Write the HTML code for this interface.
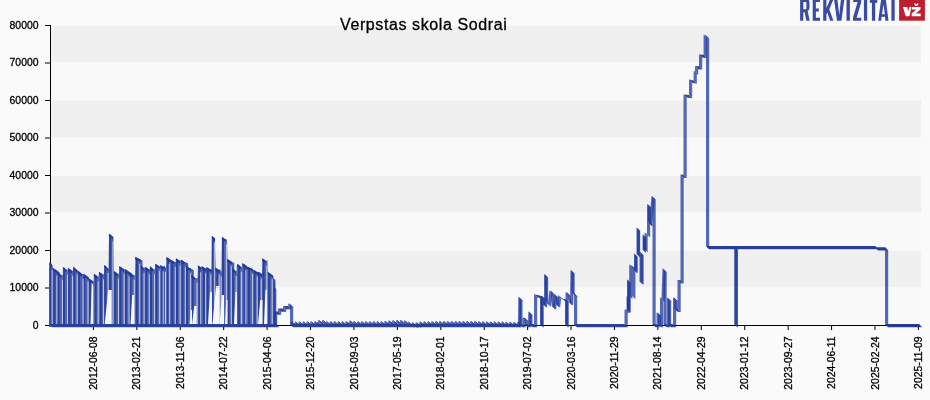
<!DOCTYPE html>
<html><head><meta charset="utf-8"><style>
html,body{margin:0;padding:0;background:#fafafa;}
body{width:930px;height:400px;overflow:hidden;position:relative;}
svg{position:absolute;left:0;top:0;will-change:transform;}
.yl{font-size:10.4px;fill:#000;stroke:#000;stroke-width:0.3px;font-family:"Liberation Sans",sans-serif;}
.title{font-size:16px;fill:#000;stroke:#000;stroke-width:0.3px;font-family:"Liberation Sans",sans-serif;letter-spacing:0.6px;}
</style></head><body>
<svg width="930" height="400" viewBox="0 0 930 400">
<defs><clipPath id="lowband"><rect x="0" y="287.2" width="930" height="40"/></clipPath><clipPath id="midband"><rect x="0" y="200" width="930" height="87.2"/></clipPath></defs>
<rect x="50" y="25" width="871" height="300" fill="#f9f9f9"/>
<rect x="51" y="25.8" width="870" height="36.400000000000006" fill="#f0f0f0"/>
<rect x="51" y="100.8" width="870" height="36.39999999999999" fill="#f0f0f0"/>
<rect x="51" y="175.8" width="870" height="36.39999999999998" fill="#f0f0f0"/>
<rect x="51" y="250.8" width="870" height="36.39999999999998" fill="#f0f0f0"/>
<rect x="45" y="325.0" width="5" height="1" fill="#000"/>
<text x="38.5" y="328.9" text-anchor="end" class="yl">0</text>
<rect x="45" y="287.5" width="5" height="1" fill="#000"/>
<text x="38.5" y="291.4" text-anchor="end" class="yl">10000</text>
<rect x="45" y="250.0" width="5" height="1" fill="#000"/>
<text x="38.5" y="253.9" text-anchor="end" class="yl">20000</text>
<rect x="45" y="212.5" width="5" height="1" fill="#000"/>
<text x="38.5" y="216.4" text-anchor="end" class="yl">30000</text>
<rect x="45" y="175.0" width="5" height="1" fill="#000"/>
<text x="38.5" y="178.9" text-anchor="end" class="yl">40000</text>
<rect x="45" y="137.5" width="5" height="1" fill="#000"/>
<text x="38.5" y="141.4" text-anchor="end" class="yl">50000</text>
<rect x="45" y="100.0" width="5" height="1" fill="#000"/>
<text x="38.5" y="103.9" text-anchor="end" class="yl">60000</text>
<rect x="45" y="62.5" width="5" height="1" fill="#000"/>
<text x="38.5" y="66.4" text-anchor="end" class="yl">70000</text>
<rect x="45" y="25.0" width="5" height="1" fill="#000"/>
<text x="38.5" y="28.9" text-anchor="end" class="yl">80000</text>
<rect x="92.9" y="325" width="1" height="5" fill="#000"/>
<text transform="translate(97.0,336.5) rotate(-90)" text-anchor="end" class="yl">2012-06-08</text>
<rect x="136.32105263157894" y="325" width="1" height="5" fill="#000"/>
<text transform="translate(140.42105263157893,336.5) rotate(-90)" text-anchor="end" class="yl">2013-02-21</text>
<rect x="179.7421052631579" y="325" width="1" height="5" fill="#000"/>
<text transform="translate(183.8421052631579,336.5) rotate(-90)" text-anchor="end" class="yl">2013-11-06</text>
<rect x="223.16315789473683" y="325" width="1" height="5" fill="#000"/>
<text transform="translate(227.26315789473682,336.5) rotate(-90)" text-anchor="end" class="yl">2014-07-22</text>
<rect x="266.5842105263158" y="325" width="1" height="5" fill="#000"/>
<text transform="translate(270.68421052631584,336.5) rotate(-90)" text-anchor="end" class="yl">2015-04-06</text>
<rect x="310.0052631578948" y="325" width="1" height="5" fill="#000"/>
<text transform="translate(314.1052631578948,336.5) rotate(-90)" text-anchor="end" class="yl">2015-12-20</text>
<rect x="353.4263157894736" y="325" width="1" height="5" fill="#000"/>
<text transform="translate(357.52631578947364,336.5) rotate(-90)" text-anchor="end" class="yl">2016-09-03</text>
<rect x="396.8473684210526" y="325" width="1" height="5" fill="#000"/>
<text transform="translate(400.9473684210526,336.5) rotate(-90)" text-anchor="end" class="yl">2017-05-19</text>
<rect x="440.26842105263154" y="325" width="1" height="5" fill="#000"/>
<text transform="translate(444.36842105263156,336.5) rotate(-90)" text-anchor="end" class="yl">2018-02-01</text>
<rect x="483.6894736842105" y="325" width="1" height="5" fill="#000"/>
<text transform="translate(487.7894736842105,336.5) rotate(-90)" text-anchor="end" class="yl">2018-10-17</text>
<rect x="527.1105263157895" y="325" width="1" height="5" fill="#000"/>
<text transform="translate(531.2105263157895,336.5) rotate(-90)" text-anchor="end" class="yl">2019-07-02</text>
<rect x="570.5315789473684" y="325" width="1" height="5" fill="#000"/>
<text transform="translate(574.6315789473684,336.5) rotate(-90)" text-anchor="end" class="yl">2020-03-16</text>
<rect x="613.9526315789473" y="325" width="1" height="5" fill="#000"/>
<text transform="translate(618.0526315789473,336.5) rotate(-90)" text-anchor="end" class="yl">2020-11-29</text>
<rect x="657.3736842105262" y="325" width="1" height="5" fill="#000"/>
<text transform="translate(661.4736842105262,336.5) rotate(-90)" text-anchor="end" class="yl">2021-08-14</text>
<rect x="700.7947368421052" y="325" width="1" height="5" fill="#000"/>
<text transform="translate(704.8947368421052,336.5) rotate(-90)" text-anchor="end" class="yl">2022-04-29</text>
<rect x="744.2157894736841" y="325" width="1" height="5" fill="#000"/>
<text transform="translate(748.3157894736842,336.5) rotate(-90)" text-anchor="end" class="yl">2023-01-12</text>
<rect x="787.6368421052631" y="325" width="1" height="5" fill="#000"/>
<text transform="translate(791.7368421052631,336.5) rotate(-90)" text-anchor="end" class="yl">2023-09-27</text>
<rect x="831.0578947368421" y="325" width="1" height="5" fill="#000"/>
<text transform="translate(835.1578947368421,336.5) rotate(-90)" text-anchor="end" class="yl">2024-06-11</text>
<rect x="874.478947368421" y="325" width="1" height="5" fill="#000"/>
<text transform="translate(878.578947368421,336.5) rotate(-90)" text-anchor="end" class="yl">2025-02-24</text>
<rect x="917.9" y="325" width="1" height="5" fill="#000"/>
<text transform="translate(922.0,336.5) rotate(-90)" text-anchor="end" class="yl">2025-11-09</text>
<rect x="50" y="25" width="1" height="300.5" fill="#000"/>
<rect x="45" y="325" width="875" height="1" fill="#000"/>
<g>
<path d="M49 327L49 270L49.5 262.5L50 263.1L50.5 263.7L51 264.2L51.5 264.8L52 265.4L52.5 265.4L53 268.2L53.5 268.5L54 268.8L54.5 269.1L55 269.4L55.5 269.7L56 270L56.5 270.4L57 270.7L57.5 271L58 272.4L58.5 272.8L59 273.2L59.5 273.6L60 274L60.5 274.4L61 274.8L61.5 275.2L62 275.2L62.5 275.2L63 275.2L63.5 267.1L64 267.6L64.5 268.1L65 268.6L65.5 269.1L66 269.6L66.5 269.6L67 269.6L67.5 269.6L68 269.6L68.5 268.2L69 268.6L69.5 269L70 269.3L70.5 269.7L71 270.1L71.5 270.4L72 270.8L72.5 270.8L73 270.8L73.5 267L74 267.4L74.5 267.8L75 268.2L75.5 268.7L76 269.1L76.5 269.5L77 269.9L77.5 270.3L78 271.1L78.5 271.5L79 271.8L79.5 272.2L80 272.6L80.5 272.9L81 273.3L81.5 273.7L82 274L82.5 274L83 274L83.5 274L84 274.1L84.5 274.4L85 274.8L85.5 275.1L86 275.5L86.5 275.8L87 276.2L87.5 276.5L88 276.9L88.5 277.2L89 278.7L89.5 279L90 279.3L90.5 279.7L91 280L91.5 280.3L92 280.6L92.5 281L93 281.3L93.5 281.3L94 273.9L94.5 274.3L95 274.6L95.5 275L96 275.3L96.5 275.7L97 276L97.5 276.4L98 276.4L98.5 276.4L99 271.9L99.5 272.2L100 272.6L100.5 272.9L101 273.3L101.5 273.6L102 274L102.5 274.3L103 274.3L103.5 274.3L104 274.3L104.5 265.2L105 265.6L105.5 266.1L106 266.6L106.5 267L107 267.5L107.5 268L108 268.4L108.5 268.9L109 233.8L109.5 234.2L110 234.6L110.5 234.9L111 235.3L111.5 235.7L112 236L112.5 236.4L113 236.8L113.5 236.8L114 271.3L114.5 271.6L115 272L115.5 272.4L116 272.7L116.5 273.1L117 273.4L117.5 273.8L118 273.8L118.5 273.8L119 273.8L119.5 266.3L120 266.6L120.5 267L121 267.3L121.5 267.6L122 268L122.5 268.3L123 268.6L123.5 269L124 269L124.5 269L125 269.2L125.5 269.6L126 269.9L126.5 270.2L127 270.5L127.5 270.8L128 271.1L128.5 271.4L129 271.7L129.5 272L130 272.7L130.5 273L131 273.4L131.5 273.7L132 274.1L132.5 274.5L133 274.8L133.5 275.2L134 275.2L134.5 275.2L135 275.2L135.5 257.1L136 257.3L136.5 257.5L137 257.8L137.5 258L138 258.2L138.5 258.5L139 258.7L139.5 258.9L140 259.2L140.5 259.4L141 265.7L141.5 266.1L142 266.6L142.5 267L143 267.5L143.5 267.9L144 267.9L144.5 267.9L145 267.1L145.5 267.3L146 267.6L146.5 267.9L147 268.2L147.5 268.4L148 268.7L148.5 269L149 269.2L149.5 269.2L150 269.2L150.5 266.6L151 267L151.5 267.5L152 267.9L152.5 268.4L153 268.8L153.5 269.2L154 269.2L154.5 269.2L155 269.2L155.5 264.1L156 264.3L156.5 264.6L157 264.9L157.5 265.2L158 265.4L158.5 265.7L159 266L159.5 266.2L160 266.2L160.5 265.3L161 265.6L161.5 265.9L162 266.2L162.5 266.5L163 266.8L163.5 267.1L164 265.4L164.5 266.2L165 267L165.5 267.8L166 267.8L166.5 257.2L167 257.5L167.5 257.8L168 258.1L168.5 258.4L169 258.7L169.5 259L170 259.3L170.5 259.6L171 259.9L171.5 260.2L172 260.5L172.5 260.8L173 261.1L173.5 261.4L174 261.7L174.5 261.9L175 261.9L175.5 261.9L176 261.9L176.5 258.5L177 258.9L177.5 259.2L178 259.6L178.5 259.9L179 260.3L179.5 260.6L180 260.6L180.5 260.6L181 259.8L181.5 260.1L182 260.4L182.5 260.7L183 261L183.5 261.4L184 261.7L184.5 262L185 262.3L185.5 262.3L186 262.3L186.5 266.2L187 266.5L187.5 266.8L188 267.1L188.5 267.4L189 267.7L189.5 268L190 268.2L190.5 268.5L191 268.8L191.5 269.1L192 275.2L192.5 275.6L193 276.1L193.5 276.5L194 277L194.5 277.4L195 277.9L195.5 277.9L196 277.9L196.5 277.9L197 277.9L197.5 277.9L198 265.5L198.5 265.8L199 266.2L199.5 266.6L200 266.9L200.5 267.3L201 267.3L201.5 267.3L202 266.4L202.5 266.7L203 267L203.5 267.3L204 267.6L204.5 268L205 268.3L205.5 268.6L206 268.6L206.5 267.2L207 267.5L207.5 267.8L208 268L208.5 268.3L209 268.5L209.5 268.8L210 269L210.5 269.3L211 269.5L211.5 269.8L212 236.2L212.5 236.6L213 236.9L213.5 237.3L214 237.7L214.5 238.1L215 238.4L215.5 267.8L216 268.2L216.5 268.5L217 268.8L217.5 269.1L218 269.4L218.5 269.7L219 270L219.5 270.3L220 268.4L220.5 271.4L221 271.4L221.5 271.4L222 237L222.5 237.3L223 237.7L223.5 238L224 238.3L224.5 238.7L225 239L225.5 239.3L226 239.3L226.5 239.3L227 239.3L227.5 259.2L228 259.5L228.5 259.8L229 260.1L229.5 260.4L230 260.7L230.5 261L231 261.3L231.5 261.6L232 261.9L232.5 268L233 268.5L233.5 269L234 269.5L234.5 270L235 270.5L235.5 271L236 271L236.5 271L237 263.9L237.5 264.3L238 264.6L238.5 265L239 265.4L239.5 265.7L240 266.1L240.5 266.5L241 266.8L241.5 266.8L242 266.8L242.5 263.3L243 263.6L243.5 263.9L244 264.3L244.5 264.6L245 264.9L245.5 265.3L246 265.6L246.5 265.9L247 266.6L247.5 266.8L248 267L248.5 267.3L249 267.5L249.5 267.7L250 267.9L250.5 268.1L251 268.3L251.5 268.6L252 268.8L252.5 269L253 269L253.5 269.9L254 270.2L254.5 270.5L255 270.8L255.5 271.1L256 271.3L256.5 271.6L257 271.9L257.5 272.2L258 271.8L258.5 272L259 272.3L259.5 272.6L260 272.9L260.5 273.2L261 273.5L261.5 273.8L262 274.1L262.5 258.5L263 258.9L263.5 259.2L264 259.6L264.5 259.9L265 260.3L265.5 260.6L266 260.6L266.5 260.6L267 260.6L267.5 260.6L268 272.3L268.5 272.6L269 272.9L269.5 273.2L270 273.6L270.5 273.9L271 274.2L271.5 274.5L272 274.9L272.5 275.2L273 275.5L273.5 278.6L274 281.8L274.5 284.9L275 288L275.5 288L276 288L276 327Z" fill="#6070b6"/>
<path d="M49.5 326L49.5 262.5L51.7 263.7L51.7 326Z" fill="rgba(30,55,150,0.8)"/>
<path d="M52.3 326L52.3 266.4L53.3 269.5L53.3 326Z" fill="rgba(30,55,150,0.3)"/>
<path d="M53.4 326L53.4 268.5L55.6 269.7L55.6 326Z" fill="rgba(30,55,150,0.8)"/>
<path d="M56.2 326L56.2 271L57.2 271.7L57.2 326Z" fill="rgba(30,55,150,0.3)"/>
<path d="M57.4 326L57.4 271L59.6 272.2L59.6 326Z" fill="rgba(30,55,150,0.8)"/>
<path d="M60.2 326L60.2 275L61.2 275.8L61.2 326Z" fill="rgba(30,55,150,0.3)"/>
<path d="M62.9 326L62.9 267.1L65.1 268.3L65.1 326Z" fill="rgba(30,55,150,0.8)"/>
<path d="M65.7 326L65.7 270.1L66.7 270.6L66.7 326Z" fill="rgba(30,55,150,0.3)"/>
<path d="M68.2 326L68.2 268.2L70.4 269.4L70.4 326Z" fill="rgba(30,55,150,0.8)"/>
<path d="M71 326L71 271.1L72 271.8L72 326Z" fill="rgba(30,55,150,0.3)"/>
<path d="M73.2 326L73.2 267L75.4 268.2L75.4 326Z" fill="rgba(30,55,150,0.8)"/>
<path d="M76 326L76 270.1L77 270.9L77 326Z" fill="rgba(30,55,150,0.3)"/>
<path d="M78.1 326L78.1 271.1L80.3 272.3L80.3 326Z" fill="rgba(30,55,150,0.8)"/>
<path d="M80.9 326L80.9 274.3L81.9 275L81.9 326Z" fill="rgba(30,55,150,0.3)"/>
<path d="M83.3 326L83.3 274L85.5 275.2L85.5 326Z" fill="rgba(30,55,150,0.8)"/>
<path d="M86.1 326L86.1 276.5L87.1 277.2L87.1 326Z" fill="rgba(30,55,150,0.3)"/>
<path d="M88.9 326L88.9 278.7L91.1 279.9L91.1 326Z" fill="rgba(30,55,150,0.8)"/>
<path d="M91.7 326L91.7 281.3L92.7 282L92.7 326Z" fill="rgba(30,55,150,0.3)"/>
<path d="M94.6 326L94.6 274.3L96.8 275.5L96.8 326Z" fill="rgba(30,55,150,0.8)"/>
<path d="M97.4 326L97.4 277.4L98.4 277.4L98.4 326Z" fill="rgba(30,55,150,0.3)"/>
<path d="M99.8 326L99.8 272.6L102 273.8L102 326Z" fill="rgba(30,55,150,0.8)"/>
<path d="M102.6 326L102.6 275.3L103.6 275.3L103.6 326Z" fill="rgba(30,55,150,0.3)"/>
<path d="M104.3 326L104.3 265.2L106.5 266.4L106.5 326Z" fill="rgba(30,55,150,0.8)"/>
<path d="M107.1 326L107.1 268.5L108.1 269.4L108.1 326Z" fill="rgba(30,55,150,0.3)"/>
<path d="M109.2 326L109.2 233.8L111.4 235L111.4 326Z" fill="rgba(30,55,150,0.8)"/>
<path d="M112 326L112 237L113 237.8L113 326Z" fill="rgba(30,55,150,0.3)"/>
<path d="M114.2 326L114.2 271.3L116.4 272.5L116.4 326Z" fill="rgba(30,55,150,0.8)"/>
<path d="M117 326L117 274.4L118 274.8L118 326Z" fill="rgba(30,55,150,0.3)"/>
<path d="M119.4 326L119.4 266.3L121.6 267.5L121.6 326Z" fill="rgba(30,55,150,0.8)"/>
<path d="M122.2 326L122.2 269L123.2 269.6L123.2 326Z" fill="rgba(30,55,150,0.3)"/>
<path d="M124.9 326L124.9 269.2L127.1 270.4L127.1 326Z" fill="rgba(30,55,150,0.8)"/>
<path d="M127.7 326L127.7 271.8L128.7 272.4L128.7 326Z" fill="rgba(30,55,150,0.3)"/>
<path d="M129.5 326L129.5 272L131.7 273.2L131.7 326Z" fill="rgba(30,55,150,0.8)"/>
<path d="M132.3 326L132.3 275.5L133.3 276.2L133.3 326Z" fill="rgba(30,55,150,0.3)"/>
<path d="M135.8 326L135.8 257.3L138 258.5L138 326Z" fill="rgba(30,55,150,0.8)"/>
<path d="M138.6 326L138.6 259.5L139.6 259.9L139.6 326Z" fill="rgba(30,55,150,0.3)"/>
<path d="M140.3 326L140.3 259.4L142.5 260.6L142.5 326Z" fill="rgba(30,55,150,0.8)"/>
<path d="M143.1 326L143.1 268.5L144.1 268.9L144.1 326Z" fill="rgba(30,55,150,0.3)"/>
<path d="M145.2 326L145.2 267.1L147.4 268.3L147.4 326Z" fill="rgba(30,55,150,0.8)"/>
<path d="M148 326L148 269.7L149 270.2L149 326Z" fill="rgba(30,55,150,0.3)"/>
<path d="M149.8 326L149.8 266.6L152 267.8L152 326Z" fill="rgba(30,55,150,0.8)"/>
<path d="M152.6 326L152.6 269.4L153.6 270.2L153.6 326Z" fill="rgba(30,55,150,0.3)"/>
<path d="M155.4 326L155.4 264.1L157.6 265.3L157.6 326Z" fill="rgba(30,55,150,0.8)"/>
<path d="M158.2 326L158.2 266.4L159.2 267L159.2 326Z" fill="rgba(30,55,150,0.3)"/>
<path d="M161.2 326L161.2 265.6L163.4 266.8L163.4 326Z" fill="rgba(30,55,150,0.8)"/>
<path d="M164 326L164 266.4L165 268L165 326Z" fill="rgba(30,55,150,0.3)"/>
<path d="M166.8 326L166.8 257.5L169 258.7L169 326Z" fill="rgba(30,55,150,0.8)"/>
<path d="M169.6 326L169.6 260L170.6 260.6L170.6 326Z" fill="rgba(30,55,150,0.3)"/>
<path d="M171.3 326L171.3 260.2L173.5 261.4L173.5 326Z" fill="rgba(30,55,150,0.8)"/>
<path d="M174.1 326L174.1 262.7L175.1 262.9L175.1 326Z" fill="rgba(30,55,150,0.3)"/>
<path d="M175.8 326L175.8 258.5L178 259.7L178 326Z" fill="rgba(30,55,150,0.8)"/>
<path d="M178.6 326L178.6 260.9L179.6 261.6L179.6 326Z" fill="rgba(30,55,150,0.3)"/>
<path d="M181.4 326L181.4 260.1L183.6 261.3L183.6 326Z" fill="rgba(30,55,150,0.8)"/>
<path d="M184.2 326L184.2 262.7L185.2 263.3L185.2 326Z" fill="rgba(30,55,150,0.3)"/>
<path d="M185.9 326L185.9 262.3L188.1 263.5L188.1 326Z" fill="rgba(30,55,150,0.8)"/>
<path d="M188.7 326L188.7 268.4L189.7 269L189.7 326Z" fill="rgba(30,55,150,0.3)"/>
<path d="M191.6 326L191.6 269.1L193.8 270.3L193.8 326Z" fill="rgba(30,55,150,0.8)"/>
<path d="M194.4 326L194.4 278.4L195.4 278.9L195.4 326Z" fill="rgba(30,55,150,0.3)"/>
<path d="M198.3 326L198.3 265.8L200.5 267L200.5 326Z" fill="rgba(30,55,150,0.8)"/>
<path d="M201.1 326L201.1 268.3L202.1 267.4L202.1 326Z" fill="rgba(30,55,150,0.3)"/>
<path d="M202.8 326L202.8 267L205 268.2L205 326Z" fill="rgba(30,55,150,0.8)"/>
<path d="M205.6 326L205.6 269.6L206.6 268.2L206.6 326Z" fill="rgba(30,55,150,0.3)"/>
<path d="M206.6 326L206.6 267.2L208.8 268.4L208.8 326Z" fill="rgba(30,55,150,0.8)"/>
<path d="M209.4 326L209.4 269.8L210.4 270.3L210.4 326Z" fill="rgba(30,55,150,0.3)"/>
<path d="M211.8 326L211.8 236.2L214 237.4L214 326Z" fill="rgba(30,55,150,0.8)"/>
<path d="M214.6 326L214.6 239.1L215.6 268.8L215.6 326Z" fill="rgba(30,55,150,0.3)"/>
<path d="M216.3 326L216.3 268.5L218.5 269.7L218.5 326Z" fill="rgba(30,55,150,0.8)"/>
<path d="M219.1 326L219.1 271L220.1 269.4L220.1 326Z" fill="rgba(30,55,150,0.3)"/>
<path d="M221.9 326L221.9 237L224.1 238.2L224.1 326Z" fill="rgba(30,55,150,0.8)"/>
<path d="M224.7 326L224.7 239.7L225.7 240.3L225.7 326Z" fill="rgba(30,55,150,0.3)"/>
<path d="M227.6 326L227.6 259.2L229.8 260.4L229.8 326Z" fill="rgba(30,55,150,0.8)"/>
<path d="M230.4 326L230.4 262L231.4 262.6L231.4 326Z" fill="rgba(30,55,150,0.3)"/>
<path d="M232.1 326L232.1 261.9L234.3 263.1L234.3 326Z" fill="rgba(30,55,150,0.8)"/>
<path d="M234.9 326L234.9 271.5L235.9 272L235.9 326Z" fill="rgba(30,55,150,0.3)"/>
<path d="M237.7 326L237.7 264.3L239.9 265.5L239.9 326Z" fill="rgba(30,55,150,0.8)"/>
<path d="M240.5 326L240.5 267.5L241.5 267.8L241.5 326Z" fill="rgba(30,55,150,0.3)"/>
<path d="M243.4 326L243.4 263.9L245.6 265.1L245.6 326Z" fill="rgba(30,55,150,0.8)"/>
<path d="M246.2 326L246.2 266.6L247.2 267.6L247.2 326Z" fill="rgba(30,55,150,0.3)"/>
<path d="M247.9 326L247.9 267L250.1 268.2L250.1 326Z" fill="rgba(30,55,150,0.8)"/>
<path d="M250.7 326L250.7 269.1L251.7 269.6L251.7 326Z" fill="rgba(30,55,150,0.3)"/>
<path d="M253.5 326L253.5 269.9L255.7 271.1L255.7 326Z" fill="rgba(30,55,150,0.8)"/>
<path d="M256.3 326L256.3 272.6L257.3 273.2L257.3 326Z" fill="rgba(30,55,150,0.3)"/>
<path d="M258 326L258 271.8L260.2 272.9L260.2 326Z" fill="rgba(30,55,150,0.8)"/>
<path d="M260.8 326L260.8 274.5L261.8 275.1L261.8 326Z" fill="rgba(30,55,150,0.3)"/>
<path d="M262.5 326L262.5 258.5L264.7 259.7L264.7 326Z" fill="rgba(30,55,150,0.8)"/>
<path d="M265.3 326L265.3 261.6L266.3 261.6L266.3 326Z" fill="rgba(30,55,150,0.3)"/>
<path d="M268.1 326L268.1 272.3L270.3 273.5L270.3 326Z" fill="rgba(30,55,150,0.8)"/>
<path d="M270.9 326L270.9 275.2L271.9 275.9L271.9 326Z" fill="rgba(30,55,150,0.3)"/>
<path d="M273.3 326L273.3 278.6L275.5 279.8L275.5 326Z" fill="rgba(30,55,150,0.8)"/>
<path d="M276.1 326L276.1 289L277.1 289L277.1 326Z" fill="rgba(30,55,150,0.3)"/>
<path d="M90.5 324.5L93 324.5L93 282L91.8 282Z" fill="#f9f9f9" clip-path="url(#lowband)"/>
<path d="M90.5 324.5L93 324.5L93 282L91.8 282Z" fill="#f0f0f0" clip-path="url(#midband)"/>
<path d="M104.7 324.5L111.7 324.5L111.7 290L108.2 290Z" fill="#f9f9f9" clip-path="url(#lowband)"/>
<path d="M104.7 324.5L111.7 324.5L111.7 290L108.2 290Z" fill="#f0f0f0" clip-path="url(#midband)"/>
<path d="M130.5 324.5L134 324.5L134 295L132.2 295Z" fill="#f9f9f9" clip-path="url(#lowband)"/>
<path d="M130.5 324.5L134 324.5L134 295L132.2 295Z" fill="#f0f0f0" clip-path="url(#midband)"/>
<path d="M189.5 324.5L192 324.5L192 310L190.8 310Z" fill="#f9f9f9" clip-path="url(#lowband)"/>
<path d="M189.5 324.5L192 324.5L192 310L190.8 310Z" fill="#f0f0f0" clip-path="url(#midband)"/>
<path d="M192 324.5L196.6 324.5L196.6 306L194.3 306Z" fill="#f9f9f9" clip-path="url(#lowband)"/>
<path d="M192 324.5L196.6 324.5L196.6 306L194.3 306Z" fill="#f0f0f0" clip-path="url(#midband)"/>
<path d="M208 324.5L212 324.5L212 292L210 292Z" fill="#f9f9f9" clip-path="url(#lowband)"/>
<path d="M208 324.5L212 324.5L212 292L210 292Z" fill="#f0f0f0" clip-path="url(#midband)"/>
<path d="M212.4 324.5L219.6 324.5L219.6 286L216 286Z" fill="#f9f9f9" clip-path="url(#lowband)"/>
<path d="M212.4 324.5L219.6 324.5L219.6 286L216 286Z" fill="#f0f0f0" clip-path="url(#midband)"/>
<path d="M219.6 324.5L224 324.5L224 295L221.8 295Z" fill="#f9f9f9" clip-path="url(#lowband)"/>
<path d="M219.6 324.5L224 324.5L224 295L221.8 295Z" fill="#f0f0f0" clip-path="url(#midband)"/>
<path d="M225 324.5L227.5 324.5L227.5 300L226.2 300Z" fill="#f9f9f9" clip-path="url(#lowband)"/>
<path d="M225 324.5L227.5 324.5L227.5 300L226.2 300Z" fill="#f0f0f0" clip-path="url(#midband)"/>
<path d="M234 324.5L237 324.5L237 292L235.5 292Z" fill="#f9f9f9" clip-path="url(#lowband)"/>
<path d="M234 324.5L237 324.5L237 292L235.5 292Z" fill="#f0f0f0" clip-path="url(#midband)"/>
<path d="M258 324.5L262.5 324.5L262.5 300L260.2 300Z" fill="#f9f9f9" clip-path="url(#lowband)"/>
<path d="M258 324.5L262.5 324.5L262.5 300L260.2 300Z" fill="#f0f0f0" clip-path="url(#midband)"/>
<path d="M264 324.5L267 324.5L267 290L265.5 290Z" fill="#f9f9f9" clip-path="url(#lowband)"/>
<path d="M264 324.5L267 324.5L267 290L265.5 290Z" fill="#f0f0f0" clip-path="url(#midband)"/>
<rect x="51.6" y="269.8" width="0.9" height="54.2" fill="rgba(235,239,250,0.8)"/>
<rect x="56.4" y="275.4" width="0.9" height="48.6" fill="rgba(235,239,250,0.8)"/>
<rect x="62.1" y="280.2" width="0.9" height="43.8" fill="rgba(235,239,250,0.8)"/>
<rect x="67" y="274.6" width="0.9" height="49.4" fill="rgba(235,239,250,0.8)"/>
<rect x="72.2" y="275.8" width="0.9" height="48.2" fill="rgba(235,239,250,0.8)"/>
<rect x="76.7" y="274.5" width="0.9" height="49.5" fill="rgba(235,239,250,0.8)"/>
<rect x="82.7" y="279" width="0.9" height="45" fill="rgba(235,239,250,0.8)"/>
<rect x="87.6" y="281.5" width="0.9" height="42.5" fill="rgba(235,239,250,0.8)"/>
<rect x="92.5" y="286" width="0.9" height="38" fill="rgba(235,239,250,0.8)"/>
<rect x="97.7" y="281.4" width="0.9" height="42.6" fill="rgba(235,239,250,0.8)"/>
<rect x="103" y="279.3" width="0.9" height="44.7" fill="rgba(235,239,250,0.8)"/>
<rect x="107.6" y="273" width="0.9" height="51" fill="rgba(235,239,250,0.8)"/>
<rect x="112.5" y="241.4" width="0.9" height="82.6" fill="rgba(235,239,250,0.8)"/>
<rect x="118.1" y="278.8" width="0.9" height="45.2" fill="rgba(235,239,250,0.8)"/>
<rect x="123.7" y="274" width="0.9" height="50" fill="rgba(235,239,250,0.8)"/>
<rect x="128.6" y="276.4" width="0.9" height="47.6" fill="rgba(235,239,250,0.8)"/>
<rect x="133.8" y="280.2" width="0.9" height="43.8" fill="rgba(235,239,250,0.8)"/>
<rect x="139.4" y="263.9" width="0.9" height="60.1" fill="rgba(235,239,250,0.8)"/>
<rect x="143.6" y="272.9" width="0.9" height="51.1" fill="rgba(235,239,250,0.8)"/>
<rect x="148.8" y="274.2" width="0.9" height="49.8" fill="rgba(235,239,250,0.8)"/>
<rect x="154.1" y="274.2" width="0.9" height="49.8" fill="rgba(235,239,250,0.8)"/>
<rect x="158.9" y="271" width="0.9" height="53" fill="rgba(235,239,250,0.8)"/>
<rect x="162.7" y="271.5" width="0.9" height="52.5" fill="rgba(235,239,250,0.8)"/>
<rect x="165.1" y="272" width="0.9" height="52" fill="rgba(235,239,250,0.8)"/>
<rect x="168.8" y="263.7" width="0.9" height="60.3" fill="rgba(235,239,250,0.8)"/>
<rect x="174.8" y="266.9" width="0.9" height="57.1" fill="rgba(235,239,250,0.8)"/>
<rect x="179.7" y="265.6" width="0.9" height="58.4" fill="rgba(235,239,250,0.8)"/>
<rect x="184.9" y="267.3" width="0.9" height="56.7" fill="rgba(235,239,250,0.8)"/>
<rect x="190.2" y="273.2" width="0.9" height="50.8" fill="rgba(235,239,250,0.8)"/>
<rect x="196.6" y="282.9" width="0.9" height="41.1" fill="rgba(235,239,250,0.8)"/>
<rect x="200.3" y="272.3" width="0.9" height="51.7" fill="rgba(235,239,250,0.8)"/>
<rect x="205.2" y="273.3" width="0.9" height="50.7" fill="rgba(235,239,250,0.8)"/>
<rect x="210.4" y="274.3" width="0.9" height="49.7" fill="rgba(235,239,250,0.8)"/>
<rect x="213.8" y="242.7" width="0.9" height="81.3" fill="rgba(235,239,250,0.8)"/>
<rect x="218.7" y="274.7" width="0.9" height="49.3" fill="rgba(235,239,250,0.8)"/>
<rect x="220.7" y="276.4" width="0.9" height="47.6" fill="rgba(235,239,250,0.8)"/>
<rect x="225.9" y="244.3" width="0.9" height="79.7" fill="rgba(235,239,250,0.8)"/>
<rect x="230.8" y="266.3" width="0.9" height="57.7" fill="rgba(235,239,250,0.8)"/>
<rect x="235.7" y="276" width="0.9" height="48" fill="rgba(235,239,250,0.8)"/>
<rect x="240.9" y="271.8" width="0.9" height="52.2" fill="rgba(235,239,250,0.8)"/>
<rect x="245.4" y="270.3" width="0.9" height="53.7" fill="rgba(235,239,250,0.8)"/>
<rect x="252.2" y="273.8" width="0.9" height="50.2" fill="rgba(235,239,250,0.8)"/>
<rect x="256.7" y="276.6" width="0.9" height="47.4" fill="rgba(235,239,250,0.8)"/>
<rect x="260.8" y="278.5" width="0.9" height="45.5" fill="rgba(235,239,250,0.8)"/>
<rect x="266.4" y="265.6" width="0.9" height="58.4" fill="rgba(235,239,250,0.8)"/>
<rect x="271.7" y="279.5" width="0.9" height="44.5" fill="rgba(235,239,250,0.8)"/>
<path d="M49.5 262.5L52.1 265.5L52.1 268.1L49.5 265.1Z" fill="rgba(30,55,150,0.92)"/>
<path d="M52.9 268.1L57.7 271.1L57.7 273.7L52.9 270.7Z" fill="rgba(30,55,150,0.92)"/>
<path d="M57.7 272.2L61.5 275.2L61.5 277.8L57.7 274.8Z" fill="rgba(30,55,150,0.92)"/>
<path d="M63.4 267L66.4 270L66.4 272.6L63.4 269.6Z" fill="rgba(30,55,150,0.92)"/>
<path d="M68.3 268.1L72.4 271.1L72.4 273.7L68.3 270.7Z" fill="rgba(30,55,150,0.92)"/>
<path d="M73.5 267L77.6 270.4L77.6 273L73.5 269.6Z" fill="rgba(30,55,150,0.92)"/>
<path d="M78 271.1L82.1 274.1L82.1 276.7L78 273.7Z" fill="rgba(30,55,150,0.92)"/>
<path d="M84 274.1L88.9 277.5L88.9 280.1L84 276.7Z" fill="rgba(30,55,150,0.92)"/>
<path d="M88.9 278.6L93 281.3L93 283.9L88.9 281.2Z" fill="rgba(30,55,150,0.92)"/>
<path d="M93.8 273.8L97.5 276.4L97.5 279L93.8 276.4Z" fill="rgba(30,55,150,0.92)"/>
<path d="M99 271.9L102.8 274.5L102.8 277.1L99 274.5Z" fill="rgba(30,55,150,0.92)"/>
<path d="M104.3 265L108.5 268.9L108.5 271.5L104.3 267.6Z" fill="rgba(30,55,150,0.92)"/>
<path d="M108.9 233.8L113 236.8L113 239.3L108.9 236.3Z" fill="rgba(30,55,150,0.92)"/>
<path d="M113.8 271.1L117.9 274.1L117.9 276.7L113.8 273.7Z" fill="rgba(30,55,150,0.92)"/>
<path d="M119.4 266.2L123.9 269.2L123.9 271.9L119.4 268.9Z" fill="rgba(30,55,150,0.92)"/>
<path d="M125 269.2L129.9 272.2L129.9 274.9L125 271.9Z" fill="rgba(30,55,150,0.92)"/>
<path d="M129.9 272.6L133.6 275.2L133.6 277.9L129.9 275.2Z" fill="rgba(30,55,150,0.92)"/>
<path d="M135.1 256.9L140.8 259.5L140.8 262.1L135.1 259.5Z" fill="rgba(30,55,150,0.92)"/>
<path d="M140.8 265.5L143.8 268.1L143.8 270.7L140.8 268.1Z" fill="rgba(30,55,150,0.92)"/>
<path d="M144.9 267L149 269.2L149 271.9L144.9 269.6Z" fill="rgba(30,55,150,0.92)"/>
<path d="M150.1 266.2L153.5 269.2L153.5 271.9L150.1 268.9Z" fill="rgba(30,55,150,0.92)"/>
<path d="M155.4 264L159.5 266.2L159.5 268.9L155.4 266.6Z" fill="rgba(30,55,150,0.92)"/>
<path d="M160.2 265.1L164 267.4L164 270L160.2 267.7Z" fill="rgba(30,55,150,0.92)"/>
<path d="M164 265.4L165.6 268L165.6 270.6L164 268Z" fill="rgba(30,55,150,0.92)"/>
<path d="M166.4 257.1L170.1 259.4L170.1 262L166.4 259.7Z" fill="rgba(30,55,150,0.92)"/>
<path d="M170.1 259.4L174.6 262L174.6 264.6L170.1 262Z" fill="rgba(30,55,150,0.92)"/>
<path d="M176.1 258.2L179.9 260.9L179.9 263.5L176.1 260.9Z" fill="rgba(30,55,150,0.92)"/>
<path d="M181 259.8L185.1 262.4L185.1 265L181 262.4Z" fill="rgba(30,55,150,0.92)"/>
<path d="M186.2 266.1L191.5 269.1L191.5 271.7L186.2 268.7Z" fill="rgba(30,55,150,0.92)"/>
<path d="M191.5 274.8L195.2 278.1L195.2 280.7L191.5 277.4Z" fill="rgba(30,55,150,0.92)"/>
<path d="M197.9 265.4L200.9 267.6L200.9 270.2L197.9 268Z" fill="rgba(30,55,150,0.92)"/>
<path d="M201.6 266.1L205.8 268.8L205.8 271.4L201.6 268.7Z" fill="rgba(30,55,150,0.92)"/>
<path d="M206.5 267.2L211.8 269.9L211.8 272.5L206.5 269.9Z" fill="rgba(30,55,150,0.92)"/>
<path d="M211.8 236L215.1 238.5L215.1 241.1L211.8 238.6Z" fill="rgba(30,55,150,0.92)"/>
<path d="M215.1 267.6L220 270.6L220 273.2L215.1 270.2Z" fill="rgba(30,55,150,0.92)"/>
<path d="M220 268.4L220.5 271.4L220.5 274L220 271Z" fill="rgba(30,55,150,0.92)"/>
<path d="M222 237L225.8 239.5L225.8 242.1L222 239.6Z" fill="rgba(30,55,150,0.92)"/>
<path d="M227.2 259L232.1 262L232.1 264.6L227.2 261.6Z" fill="rgba(30,55,150,0.92)"/>
<path d="M232.1 267.6L235.9 271.4L235.9 274L232.1 270.2Z" fill="rgba(30,55,150,0.92)"/>
<path d="M237 263.9L241.1 266.9L241.1 269.5L237 266.5Z" fill="rgba(30,55,150,0.92)"/>
<path d="M242.2 263.1L246.8 266.1L246.8 268.7L242.2 265.7Z" fill="rgba(30,55,150,0.92)"/>
<path d="M246.8 266.5L252.8 269.1L252.8 271.7L246.8 269.1Z" fill="rgba(30,55,150,0.92)"/>
<path d="M253.5 269.9L258 272.5L258 275.1L253.5 272.5Z" fill="rgba(30,55,150,0.92)"/>
<path d="M258 271.8L262.5 274.4L262.5 277L258 274.4Z" fill="rgba(30,55,150,0.92)"/>
<path d="M262.1 258.2L265.9 260.9L265.9 263.5L262.1 260.9Z" fill="rgba(30,55,150,0.92)"/>
<path d="M267.8 272.1L273 275.5L273 278.1L267.8 274.7Z" fill="rgba(30,55,150,0.92)"/>
<path d="M273 275.5L275 288L275 290.6L273 278.1Z" fill="rgba(30,55,150,0.92)"/>
<path d="M49 324L276 324L279.2 327.2L52.2 327.2Z" fill="rgba(40,64,152,0.96)"/>
<path d="M274 324L274 311.5L277.2 314.7L277.2 327.2Z" fill="rgba(30,55,155,0.75)"/>
<path d="M278 311.5L278 308.5L281.2 311.7L281.2 314.7Z" fill="rgba(30,55,155,0.75)"/>
<path d="M283 308.5L283 306L286.2 309.2L286.2 311.7Z" fill="rgba(30,55,155,0.75)"/>
<path d="M288 306L288.5 303.5L291.7 306.7L291.2 309.2Z" fill="rgba(30,55,155,0.75)"/>
<path d="M290 304L290 324L293.2 327.2L293.2 307.2Z" fill="rgba(30,55,155,0.75)"/>
<path d="M274 311.5L278 311.5L281.2 314.7L277.2 314.7ZM278 308.5L283 308.5L286.2 311.7L281.2 311.7ZM283 306L288 306L291.2 309.2L286.2 309.2ZM288.5 303.5L290 304L293.2 307.2L291.7 306.7Z" fill="rgba(40,64,152,0.96)"/>
<path d="M290.5 323.5L291.1 321.5L294.3 324.7L293.7 326.7Z" fill="rgba(30,55,155,0.75)"/>
<path d="M291.9 321.5L292.7 323.5L295.9 326.7L295.1 324.7Z" fill="rgba(30,55,155,0.75)"/>
<path d="M294.4 323.5L295 321.5L298.2 324.7L297.6 326.7Z" fill="rgba(30,55,155,0.75)"/>
<path d="M295.8 321.5L296.6 323.5L299.8 326.7L299 324.7Z" fill="rgba(30,55,155,0.75)"/>
<path d="M298.3 323.4L298.9 321.4L302.1 324.6L301.5 326.6Z" fill="rgba(30,55,155,0.75)"/>
<path d="M299.7 321.4L300.5 323.4L303.7 326.6L302.9 324.6Z" fill="rgba(30,55,155,0.75)"/>
<path d="M302.2 323.4L302.8 321.4L306 324.6L305.4 326.6Z" fill="rgba(30,55,155,0.75)"/>
<path d="M303.6 321.4L304.4 323.4L307.6 326.6L306.8 324.6Z" fill="rgba(30,55,155,0.75)"/>
<path d="M306.1 323.4L306.7 321.4L309.9 324.6L309.3 326.6Z" fill="rgba(30,55,155,0.75)"/>
<path d="M307.5 321.4L308.3 323.4L311.5 326.6L310.7 324.6Z" fill="rgba(30,55,155,0.75)"/>
<path d="M310 323.3L310.6 321.3L313.8 324.5L313.2 326.5Z" fill="rgba(30,55,155,0.75)"/>
<path d="M311.4 321.3L312.2 323.3L315.4 326.5L314.6 324.5Z" fill="rgba(30,55,155,0.75)"/>
<path d="M313.9 323.3L314.5 321.3L317.7 324.5L317.1 326.5Z" fill="rgba(30,55,155,0.75)"/>
<path d="M315.3 321.3L316.1 323.3L319.3 326.5L318.5 324.5Z" fill="rgba(30,55,155,0.75)"/>
<path d="M317.8 322.1L318.4 320.1L321.6 323.3L321 325.3Z" fill="rgba(30,55,155,0.75)"/>
<path d="M319.2 320.1L320 322.1L323.2 325.3L322.4 323.3Z" fill="rgba(30,55,155,0.75)"/>
<path d="M321.7 322L322.3 320L325.5 323.2L324.9 325.2Z" fill="rgba(30,55,155,0.75)"/>
<path d="M323.1 320L323.9 322L327.1 325.2L326.3 323.2Z" fill="rgba(30,55,155,0.75)"/>
<path d="M325.6 323.2L326.2 321.2L329.4 324.4L328.8 326.4Z" fill="rgba(30,55,155,0.75)"/>
<path d="M327 321.2L327.8 323.2L331 326.4L330.2 324.4Z" fill="rgba(30,55,155,0.75)"/>
<path d="M329.5 323.2L330.1 321.2L333.3 324.4L332.7 326.4Z" fill="rgba(30,55,155,0.75)"/>
<path d="M330.9 321.2L331.7 323.2L334.9 326.4L334.1 324.4Z" fill="rgba(30,55,155,0.75)"/>
<path d="M333.4 323.2L334 321.2L337.2 324.4L336.6 326.4Z" fill="rgba(30,55,155,0.75)"/>
<path d="M334.8 321.2L335.6 323.2L338.8 326.4L338 324.4Z" fill="rgba(30,55,155,0.75)"/>
<path d="M337.3 323.2L337.9 321.2L341.1 324.4L340.5 326.4Z" fill="rgba(30,55,155,0.75)"/>
<path d="M338.7 321.2L339.5 323.2L342.7 326.4L341.9 324.4Z" fill="rgba(30,55,155,0.75)"/>
<path d="M341.2 323.2L341.8 321.2L345 324.4L344.4 326.4Z" fill="rgba(30,55,155,0.75)"/>
<path d="M342.6 321.2L343.4 323.2L346.6 326.4L345.8 324.4Z" fill="rgba(30,55,155,0.75)"/>
<path d="M345.1 323.2L345.7 321.2L348.9 324.4L348.3 326.4Z" fill="rgba(30,55,155,0.75)"/>
<path d="M346.5 321.2L347.3 323.2L350.5 326.4L349.7 324.4Z" fill="rgba(30,55,155,0.75)"/>
<path d="M349 322.6L349.6 320.6L352.8 323.8L352.2 325.8Z" fill="rgba(30,55,155,0.75)"/>
<path d="M350.4 320.6L351.2 322.6L354.4 325.8L353.6 323.8Z" fill="rgba(30,55,155,0.75)"/>
<path d="M352.9 323.1L353.5 321.1L356.7 324.3L356.1 326.3Z" fill="rgba(30,55,155,0.75)"/>
<path d="M354.3 321.1L355.1 323.1L358.3 326.3L357.5 324.3Z" fill="rgba(30,55,155,0.75)"/>
<path d="M356.8 323.3L357.4 321.3L360.6 324.5L360 326.5Z" fill="rgba(30,55,155,0.75)"/>
<path d="M358.2 321.3L359 323.3L362.2 326.5L361.4 324.5Z" fill="rgba(30,55,155,0.75)"/>
<path d="M360.7 323.3L361.3 321.3L364.5 324.5L363.9 326.5Z" fill="rgba(30,55,155,0.75)"/>
<path d="M362.1 321.3L362.9 323.3L366.1 326.5L365.3 324.5Z" fill="rgba(30,55,155,0.75)"/>
<path d="M364.6 323.3L365.2 321.3L368.4 324.5L367.8 326.5Z" fill="rgba(30,55,155,0.75)"/>
<path d="M366 321.3L366.8 323.3L370 326.5L369.2 324.5Z" fill="rgba(30,55,155,0.75)"/>
<path d="M368.5 323.3L369.1 321.3L372.3 324.5L371.7 326.5Z" fill="rgba(30,55,155,0.75)"/>
<path d="M369.9 321.3L370.7 323.3L373.9 326.5L373.1 324.5Z" fill="rgba(30,55,155,0.75)"/>
<path d="M372.4 323.3L373 321.3L376.2 324.5L375.6 326.5Z" fill="rgba(30,55,155,0.75)"/>
<path d="M373.8 321.3L374.6 323.3L377.8 326.5L377 324.5Z" fill="rgba(30,55,155,0.75)"/>
<path d="M376.3 323.3L376.9 321.3L380.1 324.5L379.5 326.5Z" fill="rgba(30,55,155,0.75)"/>
<path d="M377.7 321.3L378.5 323.3L381.7 326.5L380.9 324.5Z" fill="rgba(30,55,155,0.75)"/>
<path d="M380.2 323.3L380.8 321.3L384 324.5L383.4 326.5Z" fill="rgba(30,55,155,0.75)"/>
<path d="M381.6 321.3L382.4 323.3L385.6 326.5L384.8 324.5Z" fill="rgba(30,55,155,0.75)"/>
<path d="M384.1 322.9L384.7 320.9L387.9 324.1L387.3 326.1Z" fill="rgba(30,55,155,0.75)"/>
<path d="M385.5 320.9L386.3 322.9L389.5 326.1L388.7 324.1Z" fill="rgba(30,55,155,0.75)"/>
<path d="M388 322.5L388.6 320.5L391.8 323.7L391.2 325.7Z" fill="rgba(30,55,155,0.75)"/>
<path d="M389.4 320.5L390.2 322.5L393.4 325.7L392.6 323.7Z" fill="rgba(30,55,155,0.75)"/>
<path d="M391.9 322.2L392.5 320.2L395.7 323.4L395.1 325.4Z" fill="rgba(30,55,155,0.75)"/>
<path d="M393.3 320.2L394.1 322.2L397.3 325.4L396.5 323.4Z" fill="rgba(30,55,155,0.75)"/>
<path d="M395.8 322.1L396.4 320.1L399.6 323.3L399 325.3Z" fill="rgba(30,55,155,0.75)"/>
<path d="M397.2 320.1L398 322.1L401.2 325.3L400.4 323.3Z" fill="rgba(30,55,155,0.75)"/>
<path d="M399.7 322L400.3 320L403.5 323.2L402.9 325.2Z" fill="rgba(30,55,155,0.75)"/>
<path d="M401.1 320L401.9 322L405.1 325.2L404.3 323.2Z" fill="rgba(30,55,155,0.75)"/>
<path d="M403.6 322.4L404.2 320.4L407.4 323.6L406.8 325.6Z" fill="rgba(30,55,155,0.75)"/>
<path d="M405 320.4L405.8 322.4L409 325.6L408.2 323.6Z" fill="rgba(30,55,155,0.75)"/>
<path d="M407.5 323.7L408.1 321.7L411.3 324.9L410.7 326.9Z" fill="rgba(30,55,155,0.75)"/>
<path d="M408.9 321.7L409.7 323.7L412.9 326.9L412.1 324.9Z" fill="rgba(30,55,155,0.75)"/>
<path d="M411.4 324.3L412 322.3L415.2 325.5L414.6 327.5Z" fill="rgba(30,55,155,0.75)"/>
<path d="M412.8 322.3L413.6 324.3L416.8 327.5L416 325.5Z" fill="rgba(30,55,155,0.75)"/>
<path d="M415.3 324.3L415.9 322.3L419.1 325.5L418.5 327.5Z" fill="rgba(30,55,155,0.75)"/>
<path d="M416.7 322.3L417.5 324.3L420.7 327.5L419.9 325.5Z" fill="rgba(30,55,155,0.75)"/>
<path d="M419.2 323.5L419.8 321.5L423 324.7L422.4 326.7Z" fill="rgba(30,55,155,0.75)"/>
<path d="M420.6 321.5L421.4 323.5L424.6 326.7L423.8 324.7Z" fill="rgba(30,55,155,0.75)"/>
<path d="M423.1 323.2L423.7 321.2L426.9 324.4L426.3 326.4Z" fill="rgba(30,55,155,0.75)"/>
<path d="M424.5 321.2L425.3 323.2L428.5 326.4L427.7 324.4Z" fill="rgba(30,55,155,0.75)"/>
<path d="M427 323.2L427.6 321.2L430.8 324.4L430.2 326.4Z" fill="rgba(30,55,155,0.75)"/>
<path d="M428.4 321.2L429.2 323.2L432.4 326.4L431.6 324.4Z" fill="rgba(30,55,155,0.75)"/>
<path d="M430.9 323.2L431.5 321.2L434.7 324.4L434.1 326.4Z" fill="rgba(30,55,155,0.75)"/>
<path d="M432.3 321.2L433.1 323.2L436.3 326.4L435.5 324.4Z" fill="rgba(30,55,155,0.75)"/>
<path d="M434.8 323.1L435.4 321.1L438.6 324.3L438 326.3Z" fill="rgba(30,55,155,0.75)"/>
<path d="M436.2 321.1L437 323.1L440.2 326.3L439.4 324.3Z" fill="rgba(30,55,155,0.75)"/>
<path d="M438.7 323.1L439.3 321.1L442.5 324.3L441.9 326.3Z" fill="rgba(30,55,155,0.75)"/>
<path d="M440.1 321.1L440.9 323.1L444.1 326.3L443.3 324.3Z" fill="rgba(30,55,155,0.75)"/>
<path d="M442.6 323.1L443.2 321.1L446.4 324.3L445.8 326.3Z" fill="rgba(30,55,155,0.75)"/>
<path d="M444 321.1L444.8 323.1L448 326.3L447.2 324.3Z" fill="rgba(30,55,155,0.75)"/>
<path d="M446.5 323.1L447.1 321.1L450.3 324.3L449.7 326.3Z" fill="rgba(30,55,155,0.75)"/>
<path d="M447.9 321.1L448.7 323.1L451.9 326.3L451.1 324.3Z" fill="rgba(30,55,155,0.75)"/>
<path d="M450.4 323.1L451 321.1L454.2 324.3L453.6 326.3Z" fill="rgba(30,55,155,0.75)"/>
<path d="M451.8 321.1L452.6 323.1L455.8 326.3L455 324.3Z" fill="rgba(30,55,155,0.75)"/>
<path d="M454.3 323.1L454.9 321.1L458.1 324.3L457.5 326.3Z" fill="rgba(30,55,155,0.75)"/>
<path d="M455.7 321.1L456.5 323.1L459.7 326.3L458.9 324.3Z" fill="rgba(30,55,155,0.75)"/>
<path d="M458.2 323L458.8 321L462 324.2L461.4 326.2Z" fill="rgba(30,55,155,0.75)"/>
<path d="M459.6 321L460.4 323L463.6 326.2L462.8 324.2Z" fill="rgba(30,55,155,0.75)"/>
<path d="M462.1 323L462.7 321L465.9 324.2L465.3 326.2Z" fill="rgba(30,55,155,0.75)"/>
<path d="M463.5 321L464.3 323L467.5 326.2L466.7 324.2Z" fill="rgba(30,55,155,0.75)"/>
<path d="M466 323L466.6 321L469.8 324.2L469.2 326.2Z" fill="rgba(30,55,155,0.75)"/>
<path d="M467.4 321L468.2 323L471.4 326.2L470.6 324.2Z" fill="rgba(30,55,155,0.75)"/>
<path d="M469.9 323L470.5 321L473.7 324.2L473.1 326.2Z" fill="rgba(30,55,155,0.75)"/>
<path d="M471.3 321L472.1 323L475.3 326.2L474.5 324.2Z" fill="rgba(30,55,155,0.75)"/>
<path d="M473.8 323.1L474.4 321.1L477.6 324.3L477 326.3Z" fill="rgba(30,55,155,0.75)"/>
<path d="M475.2 321.1L476 323.1L479.2 326.3L478.4 324.3Z" fill="rgba(30,55,155,0.75)"/>
<path d="M477.7 323.2L478.3 321.2L481.5 324.4L480.9 326.4Z" fill="rgba(30,55,155,0.75)"/>
<path d="M479.1 321.2L479.9 323.2L483.1 326.4L482.3 324.4Z" fill="rgba(30,55,155,0.75)"/>
<path d="M481.6 323.3L482.2 321.3L485.4 324.5L484.8 326.5Z" fill="rgba(30,55,155,0.75)"/>
<path d="M483 321.3L483.8 323.3L487 326.5L486.2 324.5Z" fill="rgba(30,55,155,0.75)"/>
<path d="M485.5 323.4L486.1 321.4L489.3 324.6L488.7 326.6Z" fill="rgba(30,55,155,0.75)"/>
<path d="M486.9 321.4L487.7 323.4L490.9 326.6L490.1 324.6Z" fill="rgba(30,55,155,0.75)"/>
<path d="M489.4 323.4L490 321.4L493.2 324.6L492.6 326.6Z" fill="rgba(30,55,155,0.75)"/>
<path d="M490.8 321.4L491.6 323.4L494.8 326.6L494 324.6Z" fill="rgba(30,55,155,0.75)"/>
<path d="M493.3 323.5L493.9 321.5L497.1 324.7L496.5 326.7Z" fill="rgba(30,55,155,0.75)"/>
<path d="M494.7 321.5L495.5 323.5L498.7 326.7L497.9 324.7Z" fill="rgba(30,55,155,0.75)"/>
<path d="M497.2 323.6L497.8 321.6L501 324.8L500.4 326.8Z" fill="rgba(30,55,155,0.75)"/>
<path d="M498.6 321.6L499.4 323.6L502.6 326.8L501.8 324.8Z" fill="rgba(30,55,155,0.75)"/>
<path d="M501.1 323.6L501.7 321.6L504.9 324.8L504.3 326.8Z" fill="rgba(30,55,155,0.75)"/>
<path d="M502.5 321.6L503.3 323.6L506.5 326.8L505.7 324.8Z" fill="rgba(30,55,155,0.75)"/>
<path d="M505 323.7L505.6 321.7L508.8 324.9L508.2 326.9Z" fill="rgba(30,55,155,0.75)"/>
<path d="M506.4 321.7L507.2 323.7L510.4 326.9L509.6 324.9Z" fill="rgba(30,55,155,0.75)"/>
<path d="M508.9 323.8L509.5 321.8L512.7 325L512.1 327Z" fill="rgba(30,55,155,0.75)"/>
<path d="M510.3 321.8L511.1 323.8L514.3 327L513.5 325Z" fill="rgba(30,55,155,0.75)"/>
<path d="M512.8 323.9L513.4 321.9L516.6 325.1L516 327.1Z" fill="rgba(30,55,155,0.75)"/>
<path d="M514.2 321.9L515 323.9L518.2 327.1L517.4 325.1Z" fill="rgba(30,55,155,0.75)"/>
<path d="M516.7 324L517.3 322L520.5 325.2L519.9 327.2Z" fill="rgba(30,55,155,0.75)"/>
<path d="M518.1 322L518.9 324L522.1 327.2L521.3 325.2Z" fill="rgba(30,55,155,0.75)"/>
<path d="M291.1 321.5L291.9 321.5L295.1 324.7L294.3 324.7ZM292.7 323.5L294.4 323.5L297.6 326.7L295.9 326.7ZM295 321.5L295.8 321.5L299 324.7L298.2 324.7ZM296.6 323.5L298.3 323.4L301.5 326.6L299.8 326.7ZM298.9 321.4L299.7 321.4L302.9 324.6L302.1 324.6ZM300.5 323.4L302.2 323.4L305.4 326.6L303.7 326.6ZM302.8 321.4L303.6 321.4L306.8 324.6L306 324.6ZM304.4 323.4L306.1 323.4L309.3 326.6L307.6 326.6ZM306.7 321.4L307.5 321.4L310.7 324.6L309.9 324.6ZM308.3 323.4L310 323.3L313.2 326.5L311.5 326.6ZM310.6 321.3L311.4 321.3L314.6 324.5L313.8 324.5ZM312.2 323.3L313.9 323.3L317.1 326.5L315.4 326.5ZM314.5 321.3L315.3 321.3L318.5 324.5L317.7 324.5ZM316.1 323.3L317.8 322.1L321 325.3L319.3 326.5ZM318.4 320.1L319.2 320.1L322.4 323.3L321.6 323.3ZM320 322.1L321.7 322L324.9 325.2L323.2 325.3ZM322.3 320L323.1 320L326.3 323.2L325.5 323.2ZM323.9 322L325.6 323.2L328.8 326.4L327.1 325.2ZM326.2 321.2L327 321.2L330.2 324.4L329.4 324.4ZM327.8 323.2L329.5 323.2L332.7 326.4L331 326.4ZM330.1 321.2L330.9 321.2L334.1 324.4L333.3 324.4ZM331.7 323.2L333.4 323.2L336.6 326.4L334.9 326.4ZM334 321.2L334.8 321.2L338 324.4L337.2 324.4ZM335.6 323.2L337.3 323.2L340.5 326.4L338.8 326.4ZM337.9 321.2L338.7 321.2L341.9 324.4L341.1 324.4ZM339.5 323.2L341.2 323.2L344.4 326.4L342.7 326.4ZM341.8 321.2L342.6 321.2L345.8 324.4L345 324.4ZM343.4 323.2L345.1 323.2L348.3 326.4L346.6 326.4ZM345.7 321.2L346.5 321.2L349.7 324.4L348.9 324.4ZM347.3 323.2L349 322.6L352.2 325.8L350.5 326.4ZM349.6 320.6L350.4 320.6L353.6 323.8L352.8 323.8ZM351.2 322.6L352.9 323.1L356.1 326.3L354.4 325.8ZM353.5 321.1L354.3 321.1L357.5 324.3L356.7 324.3ZM355.1 323.1L356.8 323.3L360 326.5L358.3 326.3ZM357.4 321.3L358.2 321.3L361.4 324.5L360.6 324.5ZM359 323.3L360.7 323.3L363.9 326.5L362.2 326.5ZM361.3 321.3L362.1 321.3L365.3 324.5L364.5 324.5ZM362.9 323.3L364.6 323.3L367.8 326.5L366.1 326.5ZM365.2 321.3L366 321.3L369.2 324.5L368.4 324.5ZM366.8 323.3L368.5 323.3L371.7 326.5L370 326.5ZM369.1 321.3L369.9 321.3L373.1 324.5L372.3 324.5ZM370.7 323.3L372.4 323.3L375.6 326.5L373.9 326.5ZM373 321.3L373.8 321.3L377 324.5L376.2 324.5ZM374.6 323.3L376.3 323.3L379.5 326.5L377.8 326.5ZM376.9 321.3L377.7 321.3L380.9 324.5L380.1 324.5ZM378.5 323.3L380.2 323.3L383.4 326.5L381.7 326.5ZM380.8 321.3L381.6 321.3L384.8 324.5L384 324.5ZM382.4 323.3L384.1 322.9L387.3 326.1L385.6 326.5ZM384.7 320.9L385.5 320.9L388.7 324.1L387.9 324.1ZM386.3 322.9L388 322.5L391.2 325.7L389.5 326.1ZM388.6 320.5L389.4 320.5L392.6 323.7L391.8 323.7ZM390.2 322.5L391.9 322.2L395.1 325.4L393.4 325.7ZM392.5 320.2L393.3 320.2L396.5 323.4L395.7 323.4ZM394.1 322.2L395.8 322.1L399 325.3L397.3 325.4ZM396.4 320.1L397.2 320.1L400.4 323.3L399.6 323.3ZM398 322.1L399.7 322L402.9 325.2L401.2 325.3ZM400.3 320L401.1 320L404.3 323.2L403.5 323.2ZM401.9 322L403.6 322.4L406.8 325.6L405.1 325.2ZM404.2 320.4L405 320.4L408.2 323.6L407.4 323.6ZM405.8 322.4L407.5 323.7L410.7 326.9L409 325.6ZM408.1 321.7L408.9 321.7L412.1 324.9L411.3 324.9ZM409.7 323.7L411.4 324.3L414.6 327.5L412.9 326.9ZM412 322.3L412.8 322.3L416 325.5L415.2 325.5ZM413.6 324.3L415.3 324.3L418.5 327.5L416.8 327.5ZM415.9 322.3L416.7 322.3L419.9 325.5L419.1 325.5ZM417.5 324.3L419.2 323.5L422.4 326.7L420.7 327.5ZM419.8 321.5L420.6 321.5L423.8 324.7L423 324.7ZM421.4 323.5L423.1 323.2L426.3 326.4L424.6 326.7ZM423.7 321.2L424.5 321.2L427.7 324.4L426.9 324.4ZM425.3 323.2L427 323.2L430.2 326.4L428.5 326.4ZM427.6 321.2L428.4 321.2L431.6 324.4L430.8 324.4ZM429.2 323.2L430.9 323.2L434.1 326.4L432.4 326.4ZM431.5 321.2L432.3 321.2L435.5 324.4L434.7 324.4ZM433.1 323.2L434.8 323.1L438 326.3L436.3 326.4ZM435.4 321.1L436.2 321.1L439.4 324.3L438.6 324.3ZM437 323.1L438.7 323.1L441.9 326.3L440.2 326.3ZM439.3 321.1L440.1 321.1L443.3 324.3L442.5 324.3ZM440.9 323.1L442.6 323.1L445.8 326.3L444.1 326.3ZM443.2 321.1L444 321.1L447.2 324.3L446.4 324.3ZM444.8 323.1L446.5 323.1L449.7 326.3L448 326.3ZM447.1 321.1L447.9 321.1L451.1 324.3L450.3 324.3ZM448.7 323.1L450.4 323.1L453.6 326.3L451.9 326.3ZM451 321.1L451.8 321.1L455 324.3L454.2 324.3ZM452.6 323.1L454.3 323.1L457.5 326.3L455.8 326.3ZM454.9 321.1L455.7 321.1L458.9 324.3L458.1 324.3ZM456.5 323.1L458.2 323L461.4 326.2L459.7 326.3ZM458.8 321L459.6 321L462.8 324.2L462 324.2ZM460.4 323L462.1 323L465.3 326.2L463.6 326.2ZM462.7 321L463.5 321L466.7 324.2L465.9 324.2ZM464.3 323L466 323L469.2 326.2L467.5 326.2ZM466.6 321L467.4 321L470.6 324.2L469.8 324.2ZM468.2 323L469.9 323L473.1 326.2L471.4 326.2ZM470.5 321L471.3 321L474.5 324.2L473.7 324.2ZM472.1 323L473.8 323.1L477 326.3L475.3 326.2ZM474.4 321.1L475.2 321.1L478.4 324.3L477.6 324.3ZM476 323.1L477.7 323.2L480.9 326.4L479.2 326.3ZM478.3 321.2L479.1 321.2L482.3 324.4L481.5 324.4ZM479.9 323.2L481.6 323.3L484.8 326.5L483.1 326.4ZM482.2 321.3L483 321.3L486.2 324.5L485.4 324.5ZM483.8 323.3L485.5 323.4L488.7 326.6L487 326.5ZM486.1 321.4L486.9 321.4L490.1 324.6L489.3 324.6ZM487.7 323.4L489.4 323.4L492.6 326.6L490.9 326.6ZM490 321.4L490.8 321.4L494 324.6L493.2 324.6ZM491.6 323.4L493.3 323.5L496.5 326.7L494.8 326.6ZM493.9 321.5L494.7 321.5L497.9 324.7L497.1 324.7ZM495.5 323.5L497.2 323.6L500.4 326.8L498.7 326.7ZM497.8 321.6L498.6 321.6L501.8 324.8L501 324.8ZM499.4 323.6L501.1 323.6L504.3 326.8L502.6 326.8ZM501.7 321.6L502.5 321.6L505.7 324.8L504.9 324.8ZM503.3 323.6L505 323.7L508.2 326.9L506.5 326.8ZM505.6 321.7L506.4 321.7L509.6 324.9L508.8 324.9ZM507.2 323.7L508.9 323.8L512.1 327L510.4 326.9ZM509.5 321.8L510.3 321.8L513.5 325L512.7 325ZM511.1 323.8L512.8 323.9L516 327.1L514.3 327ZM513.4 321.9L514.2 321.9L517.4 325.1L516.6 325.1ZM515 323.9L516.7 324L519.9 327.2L518.2 327.1ZM517.3 322L518.1 322L521.3 325.2L520.5 325.2Z" fill="rgba(40,64,152,0.96)"/>
<path d="M290 324L518 324L521.2 327.2L293.2 327.2Z" fill="rgba(40,64,152,0.96)"/>
<path d="M518 324L518.3 297L521.5 300.2L521.2 327.2Z" fill="rgba(30,55,155,0.75)"/>
<path d="M519.3 297.3L519.3 324L522.5 327.2L522.5 300.5Z" fill="rgba(30,55,155,0.75)"/>
<path d="M522.5 324L522.5 317.5L525.7 320.7L525.7 327.2Z" fill="rgba(30,55,155,0.75)"/>
<path d="M525 318L525 324L528.2 327.2L528.2 321.2Z" fill="rgba(30,55,155,0.75)"/>
<path d="M528 324L528.3 311.5L531.5 314.7L531.2 327.2Z" fill="rgba(30,55,155,0.75)"/>
<path d="M529.3 312L529.3 324L532.5 327.2L532.5 315.2Z" fill="rgba(30,55,155,0.75)"/>
<path d="M517 324L518 324L521.2 327.2L520.2 327.2ZM518.3 297L519.3 297.3L522.5 300.5L521.5 300.2ZM519.3 324L522.5 324L525.7 327.2L522.5 327.2ZM522.5 317.5L525 318L528.2 321.2L525.7 320.7ZM525 324L528 324L531.2 327.2L528.2 327.2ZM528.3 311.5L529.3 312L532.5 315.2L531.5 314.7ZM529.3 324L534 324L537.2 327.2L532.5 327.2Z" fill="rgba(40,64,152,0.96)"/>
<path d="M534 324L534 294L537.2 297.2L537.2 327.2Z" fill="rgba(30,55,155,0.75)"/>
<path d="M540 295.5L540 324L543.2 327.2L543.2 298.7Z" fill="rgba(30,55,155,0.75)"/>
<path d="M540.5 324L540.5 296L543.7 299.2L543.7 327.2Z" fill="rgba(30,55,155,0.75)"/>
<path d="M542 296L543 304L546.2 307.2L545.2 299.2Z" fill="rgba(30,55,155,0.75)"/>
<path d="M544 304L544 274L547.2 277.2L547.2 307.2Z" fill="rgba(30,55,155,0.75)"/>
<path d="M545 274.5L545 300L548.2 303.2L548.2 277.7Z" fill="rgba(30,55,155,0.75)"/>
<path d="M545 300L547 303L550.2 306.2L548.2 303.2Z" fill="rgba(30,55,155,0.75)"/>
<path d="M548 303L549.5 290.5L552.7 293.7L551.2 306.2Z" fill="rgba(30,55,155,0.75)"/>
<path d="M551 291L552 306L555.2 309.2L554.2 294.2Z" fill="rgba(30,55,155,0.75)"/>
<path d="M553 306L554 294L557.2 297.2L556.2 309.2Z" fill="rgba(30,55,155,0.75)"/>
<path d="M555 294.5L556 304L559.2 307.2L558.2 297.7Z" fill="rgba(30,55,155,0.75)"/>
<path d="M557 304L558 295L561.2 298.2L560.2 307.2Z" fill="rgba(30,55,155,0.75)"/>
<path d="M565 299L565 324L568.2 327.2L568.2 302.2Z" fill="rgba(30,55,155,0.75)"/>
<path d="M565.5 324L565.5 292.5L568.7 295.7L568.7 327.2Z" fill="rgba(30,55,155,0.75)"/>
<path d="M567 292.5L569 302L572.2 305.2L570.2 295.7Z" fill="rgba(30,55,155,0.75)"/>
<path d="M570 302L570.5 270L573.7 273.2L573.2 305.2Z" fill="rgba(30,55,155,0.75)"/>
<path d="M571.5 270.5L571.5 292L574.7 295.2L574.7 273.7Z" fill="rgba(30,55,155,0.75)"/>
<path d="M574 293L574 324L577.2 327.2L577.2 296.2Z" fill="rgba(30,55,155,0.75)"/>
<path d="M534 294L537 295L540.2 298.2L537.2 297.2ZM537 295L540 295.5L543.2 298.7L540.2 298.2ZM540 324L540.5 324L543.7 327.2L543.2 327.2ZM540.5 296L542 296L545.2 299.2L543.7 299.2ZM543 304L544 304L547.2 307.2L546.2 307.2ZM544 274L545 274.5L548.2 277.7L547.2 277.2ZM547 303L548 303L551.2 306.2L550.2 306.2ZM549.5 290.5L551 291L554.2 294.2L552.7 293.7ZM552 306L553 306L556.2 309.2L555.2 309.2ZM554 294L555 294.5L558.2 297.7L557.2 297.2ZM556 304L557 304L560.2 307.2L559.2 307.2ZM558 295L562 298L565.2 301.2L561.2 298.2ZM562 298L563 299L566.2 302.2L565.2 301.2ZM563 299L565 299L568.2 302.2L566.2 302.2ZM565 324L565.5 324L568.7 327.2L568.2 327.2ZM565.5 292.5L567 292.5L570.2 295.7L568.7 295.7ZM569 302L570 302L573.2 305.2L572.2 305.2ZM570.5 270L571.5 270.5L574.7 273.7L573.7 273.2ZM571.5 292L574 293L577.2 296.2L574.7 295.2ZM574 324L624.5 324L627.7 327.2L577.2 327.2Z" fill="rgba(40,64,152,0.96)"/>
<path d="M624.5 324L624.5 309.5L627.7 312.7L627.7 327.2Z" fill="rgba(30,55,155,0.75)"/>
<path d="M626.5 309.8L626.5 296L629.7 299.2L629.7 313Z" fill="rgba(30,55,155,0.75)"/>
<path d="M624.5 309.5L626.5 309.8L629.7 313L627.7 312.7Z" fill="rgba(40,64,152,0.96)"/>
<path d="M627 309.5L627 279.5L630.2 282.7L630.2 312.7Z" fill="rgba(30,55,155,0.75)"/>
<path d="M627.5 279.8L627.5 309.5L630.7 312.7L630.7 283Z" fill="rgba(30,55,155,0.75)"/>
<path d="M627 279.5L627.5 279.8L630.7 283L630.2 282.7Z" fill="rgba(40,64,152,0.96)"/>
<path d="M629.2 296L629.2 264.5L632.4 267.7L632.4 299.2Z" fill="rgba(30,55,155,0.75)"/>
<path d="M632.2 266L632.2 296L635.4 299.2L635.4 269.2Z" fill="rgba(30,55,155,0.75)"/>
<path d="M629.2 264.5L632.2 266L635.4 269.2L632.4 267.7Z" fill="rgba(40,64,152,0.96)"/>
<path d="M634 270L634 253.5L637.2 256.7L637.2 273.2Z" fill="rgba(30,55,155,0.75)"/>
<path d="M634.5 253.8L634.5 270L637.7 273.2L637.7 257Z" fill="rgba(30,55,155,0.75)"/>
<path d="M634 253.5L634.5 253.8L637.7 257L637.2 256.7Z" fill="rgba(40,64,152,0.96)"/>
<path d="M636.5 254L636.5 227.5L639.7 230.7L639.7 257.2Z" fill="rgba(30,55,155,0.75)"/>
<path d="M637 227.8L637 254L640.2 257.2L640.2 231Z" fill="rgba(30,55,155,0.75)"/>
<path d="M636.5 227.5L637 227.8L640.2 231L639.7 230.7Z" fill="rgba(40,64,152,0.96)"/>
<path d="M639.5 281.5L639.5 252L642.7 255.2L642.7 284.7Z" fill="rgba(30,55,155,0.75)"/>
<path d="M640.5 252.3L640.5 281.5L643.7 284.7L643.7 255.5Z" fill="rgba(30,55,155,0.75)"/>
<path d="M639.5 252L640.5 252.3L643.7 255.5L642.7 255.2Z" fill="rgba(40,64,152,0.96)"/>
<path d="M642.5 249.5L642.5 234.5L645.7 237.7L645.7 252.7Z" fill="rgba(30,55,155,0.75)"/>
<path d="M643 234.8L643 249.5L646.2 252.7L646.2 238Z" fill="rgba(30,55,155,0.75)"/>
<path d="M642.5 234.5L643 234.8L646.2 238L645.7 237.7Z" fill="rgba(40,64,152,0.96)"/>
<path d="M644.5 249L644.5 232.5L647.7 235.7L647.7 252.2Z" fill="rgba(30,55,155,0.75)"/>
<path d="M647 234L647 204L650.2 207.2L650.2 237.2Z" fill="rgba(30,55,155,0.75)"/>
<path d="M648 204.5L648 221L651.2 224.2L651.2 207.7Z" fill="rgba(30,55,155,0.75)"/>
<path d="M644.5 232.5L647 234L650.2 237.2L647.7 235.7ZM647 204L648 204.5L651.2 207.7L650.2 207.2Z" fill="rgba(40,64,152,0.96)"/>
<path d="M649 221L649 223L652.2 226.2L652.2 224.2Z" fill="rgba(30,55,155,0.75)"/>
<path d="M649 223L651.5 196L654.7 199.2L652.2 226.2Z" fill="rgba(30,55,155,0.75)"/>
<path d="M652.5 196.5L652.5 324L655.7 327.2L655.7 199.7Z" fill="rgba(30,55,155,0.75)"/>
<path d="M651.5 196L652.5 196.5L655.7 199.7L654.7 199.2ZM652.5 324L656.5 324L659.7 327.2L655.7 327.2Z" fill="rgba(40,64,152,0.96)"/>
<path d="M656.5 324L656.5 312.5L659.7 315.7L659.7 327.2Z" fill="rgba(30,55,155,0.75)"/>
<path d="M658 313L658 324L661.2 327.2L661.2 316.2Z" fill="rgba(30,55,155,0.75)"/>
<path d="M660 324L660 297.5L663.2 300.7L663.2 327.2Z" fill="rgba(30,55,155,0.75)"/>
<path d="M661.5 298L662.5 268.5L665.7 271.7L664.7 301.2Z" fill="rgba(30,55,155,0.75)"/>
<path d="M663.5 269L663.5 324L666.7 327.2L666.7 272.2Z" fill="rgba(30,55,155,0.75)"/>
<path d="M667 324L667 297.5L670.2 300.7L670.2 327.2Z" fill="rgba(30,55,155,0.75)"/>
<path d="M668 298L668 324L671.2 327.2L671.2 301.2Z" fill="rgba(30,55,155,0.75)"/>
<path d="M673 324L673 297.5L676.2 300.7L676.2 327.2Z" fill="rgba(30,55,155,0.75)"/>
<path d="M674.5 298L674.5 308.5L677.7 311.7L677.7 301.2Z" fill="rgba(30,55,155,0.75)"/>
<path d="M677.5 308.8L677.5 280L680.7 283.2L680.7 312Z" fill="rgba(30,55,155,0.75)"/>
<path d="M680.5 280.3L680.5 174.5L683.7 177.7L683.7 283.5Z" fill="rgba(30,55,155,0.75)"/>
<path d="M683.5 174.8L683.5 94.4L686.7 97.6L686.7 178Z" fill="rgba(30,55,155,0.75)"/>
<path d="M689 95L689 79.6L692.2 82.8L692.2 98.2Z" fill="rgba(30,55,155,0.75)"/>
<path d="M693.6 80.5L693.6 71L696.8 74.2L696.8 83.7Z" fill="rgba(30,55,155,0.75)"/>
<path d="M695 71.5L695 66L698.2 69.2L698.2 74.7Z" fill="rgba(30,55,155,0.75)"/>
<path d="M699 66.3L699 54.4L702.2 57.6L702.2 69.5Z" fill="rgba(30,55,155,0.75)"/>
<path d="M703.6 54.8L703.6 34.4L706.8 37.6L706.8 58Z" fill="rgba(30,55,155,0.75)"/>
<path d="M706 35.5L706 246L709.2 249.2L709.2 38.7Z" fill="rgba(30,55,155,0.75)"/>
<path d="M656.5 312.5L658 313L661.2 316.2L659.7 315.7ZM658 324L660 324L663.2 327.2L661.2 327.2ZM660 297.5L661.5 298L664.7 301.2L663.2 300.7ZM662.5 268.5L663.5 269L666.7 272.2L665.7 271.7ZM663.5 324L667 324L670.2 327.2L666.7 327.2ZM667 297.5L668 298L671.2 301.2L670.2 300.7ZM668 324L673 324L676.2 327.2L671.2 327.2ZM673 297.5L674.5 298L677.7 301.2L676.2 300.7ZM674.5 308.5L677.5 308.8L680.7 312L677.7 311.7ZM677.5 280L680.5 280.3L683.7 283.5L680.7 283.2ZM680.5 174.5L683.5 174.8L686.7 178L683.7 177.7ZM683.5 94.4L689 95L692.2 98.2L686.7 97.6ZM689 79.6L693.6 80.5L696.8 83.7L692.2 82.8ZM693.6 71L695 71.5L698.2 74.7L696.8 74.2ZM695 66L699 66.3L702.2 69.5L698.2 69.2ZM699 54.4L703.6 54.8L706.8 58L702.2 57.6ZM703.6 34.4L706 35.5L709.2 38.7L706.8 37.6Z" fill="rgba(40,64,152,0.96)"/>
<path d="M875 246L875 247.3L878.2 250.5L878.2 249.2Z" fill="rgba(30,55,155,0.75)"/>
<path d="M885 247.3L885 324L888.2 327.2L888.2 250.5Z" fill="rgba(30,55,155,0.75)"/>
<path d="M706 246L875 246L878.2 249.2L709.2 249.2ZM875 247.3L885 247.3L888.2 250.5L878.2 250.5ZM885 324L919 324L922.2 327.2L888.2 327.2Z" fill="rgba(30,55,150,0.96)"/>
<path d="M734.2 246.6L734.2 324L737.4 327.2L737.4 249.8Z" fill="rgba(30,55,155,0.75)"/>
<path d="M734.8 324L734.8 246.6L738 249.8L738 327.2Z" fill="rgba(30,55,155,0.75)"/>
<path d="M734.2 324L734.8 324L738 327.2L737.4 327.2Z" fill="rgba(40,64,152,0.96)"/>
</g>
<g fill="#3a4ca2" fill-rule="evenodd">
<path d="M800.1,-1H806.3Q809.5,-1 809.5,3V7.2Q809.5,10 807.6,10.8L809.7,20.7H806.4L804.6,12.2H803.3V20.7H800.1ZM803.3,2H805.6Q806.4,2 806.4,3V8.2Q806.4,9.3 805.5,9.3H803.3Z"/>
<path d="M812.7,-1H819.9V2H815.9V8.4H818.8V11.4H815.9V17.7H820V20.7H812.7Z"/>
<path d="M823.2,-1H826.4V8L830.3,-1H833.6L829.3,9.2L833.4,20.7H830.1L827.3,12.4L826.4,14.2V20.7H823.2Z"/>
<path d="M834,-1H837.4L839.2,15L841,-1H844.4L841.4,20.7H837Z"/>
<path d="M846.5,-1H849.9V20.7H846.5Z"/>
<path d="M853.2,-1H861.2V2.2L856.6,17.7H861.3V20.7H853V17.6L857.6,2.1H853.2Z"/>
<path d="M863.9,-1H867.2V20.7H863.9Z"/>
<path d="M869.8,-1H877.3V2.7H875.2V20.7H871.9V2.7H869.8Z"/>
<path d="M881.2,-1H885.8L888.5,20.7H885.4L885,16.8H881.6L881.2,20.7H878.2ZM882,14.2H884.8L883.5,4.2Z"/>
<path d="M891.4,-1H894.7V20.7H891.4Z"/>
</g>
<rect x="899.1" y="0" width="25.8" height="20.7" fill="#be1e2d"/>
<g fill="#fff">
<path d="M903,6.9H907.2L908.2,11.5L909.2,6.9H911.6L909.4,16.2H905.6Z"/>
<path d="M912,6.9H920.5V9.5L915.8,13.6H920.7V16.2H911.7V13.6L916.3,9.5H912Z"/>
<path d="M913.8,3.6H915.6L916.3,4.6L917.1,3.6H918.9L917.2,6.1H915.5Z"/>
</g>
<text x="340" y="29.7" class="title">Verpstas skola Sodrai</text>
</svg>
</body></html>
